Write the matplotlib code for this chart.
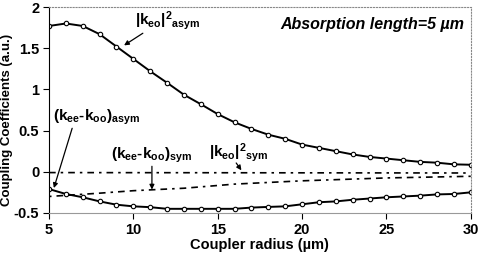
import numpy as np
import matplotlib.pyplot as plt

plt.rcParams['font.family'] = ['Liberation Sans', 'DejaVu Sans']
plt.rcParams['font.weight'] = 'bold'
plt.rcParams['mathtext.default'] = 'regular'

# Coupler radius (um)
radius = np.arange(5, 31)

# |k_eo|^2 asym
keo_asym = [1.77, 1.80, 1.77, 1.67, 1.52, 1.37, 1.22, 1.08, 0.935, 0.82, 0.70,
            0.60, 0.52, 0.45, 0.40, 0.33, 0.29, 0.25, 0.21, 0.18, 0.16, 0.14,
            0.12, 0.11, 0.09, 0.085]

# (k_ee - k_oo) asym
kdiff_asym = [-0.21, -0.27, -0.31, -0.36, -0.40, -0.42, -0.43, -0.45, -0.45,
              -0.45, -0.45, -0.45, -0.435, -0.427, -0.42, -0.395, -0.37, -0.36,
              -0.34, -0.325, -0.31, -0.30, -0.29, -0.275, -0.27, -0.25]

# (k_ee - k_oo) sym
sym_x = [5, 8, 10, 13, 16, 20, 25, 30]
kdiff_sym = [-0.30, -0.26, -0.23, -0.20, -0.15, -0.11, -0.075, -0.055]

# |k_eo|^2 sym
keo_sym_x = [5, 30]
keo_sym = [-0.01, -0.015]

fig = plt.figure(figsize=(4.82, 2.6), dpi=100)
ax = fig.add_axes([0.1017, 0.181, 0.875, 0.792])

ax.plot(radius, keo_asym, color='black', lw=1.4, marker='o', ms=3.2,
        mfc='white', mec='black', mew=0.8)
ax.plot(radius, kdiff_asym, color='black', lw=1.4, marker='o', ms=3.2,
        mfc='white', mec='black', mew=0.8)
ax.plot(keo_sym_x, keo_sym, color='black', lw=1.2, dashes=[4, 3, 1.5, 3])
ax.plot(sym_x, kdiff_sym, color='black', lw=1.2, dashes=[1.5, 3, 4, 3, 4, 3])

ax.set_xlim(5, 30)
ax.set_ylim(-0.5, 2)
ax.set_xticks([5, 10, 15, 20, 25, 30])
ax.set_yticks([-0.5, 0, 0.5, 1, 1.5, 2])
ax.set_yticklabels(['-0.5', '0', '0.5', '1', '1.5', '2'])
ax.tick_params(labelsize=10.5, length=4, width=0.8, pad=3)

for s in ['top', 'right']:
    ax.spines[s].set_linestyle(':')
    ax.spines[s].set_color('#888888')
ax.spines['bottom'].set_color('#999999')
ax.spines['left'].set_color('black')

ax.set_xlabel('Coupler radius (µm)', fontsize=10.5, fontweight='bold', labelpad=1)
ax.set_ylabel('Coupling Coefficients (a.u.)', fontsize=9.5, fontweight='bold')
ax.yaxis.set_label_coords(-0.086, 0.45)

ax.text(0.985, 0.915, 'Absorption length=5 µm', transform=ax.transAxes,
        ha='right', va='center', fontsize=11.5, fontweight='bold', style='italic')

arrow = dict(arrowstyle='-|>', color='black', lw=0.9, mutation_scale=7)
fs = 11
ax.text(10.1, 1.84, '|k$_{eo}$|$^2$$_{asym}$', fontsize=fs, ha='left', va='center')
ax.annotate('', xy=(9.31, 1.516), xytext=(10.7, 1.70), arrowprops=arrow)
ax.text(5.24, 0.66, '(k$_{ee}$-k$_{oo}$)$_{asym}$', fontsize=fs, ha='left', va='center')
ax.annotate('', xy=(5.24, -0.23), xytext=(6.42, 0.56), arrowprops=arrow)
ax.text(8.7, 0.195, '(k$_{ee}$-k$_{oo}$)$_{sym}$', fontsize=fs, ha='left', va='center')
ax.annotate('', xy=(11.1, -0.25), xytext=(11.1, 0.1), arrowprops=arrow)
ax.text(14.5, 0.23, '|k$_{eo}$|$^2$$_{sym}$', fontsize=fs, ha='left', va='center')
ax.annotate('', xy=(16.5, -0.01), xytext=(16.0, 0.134), arrowprops=arrow)

fig.savefig('out.png', dpi=100)
